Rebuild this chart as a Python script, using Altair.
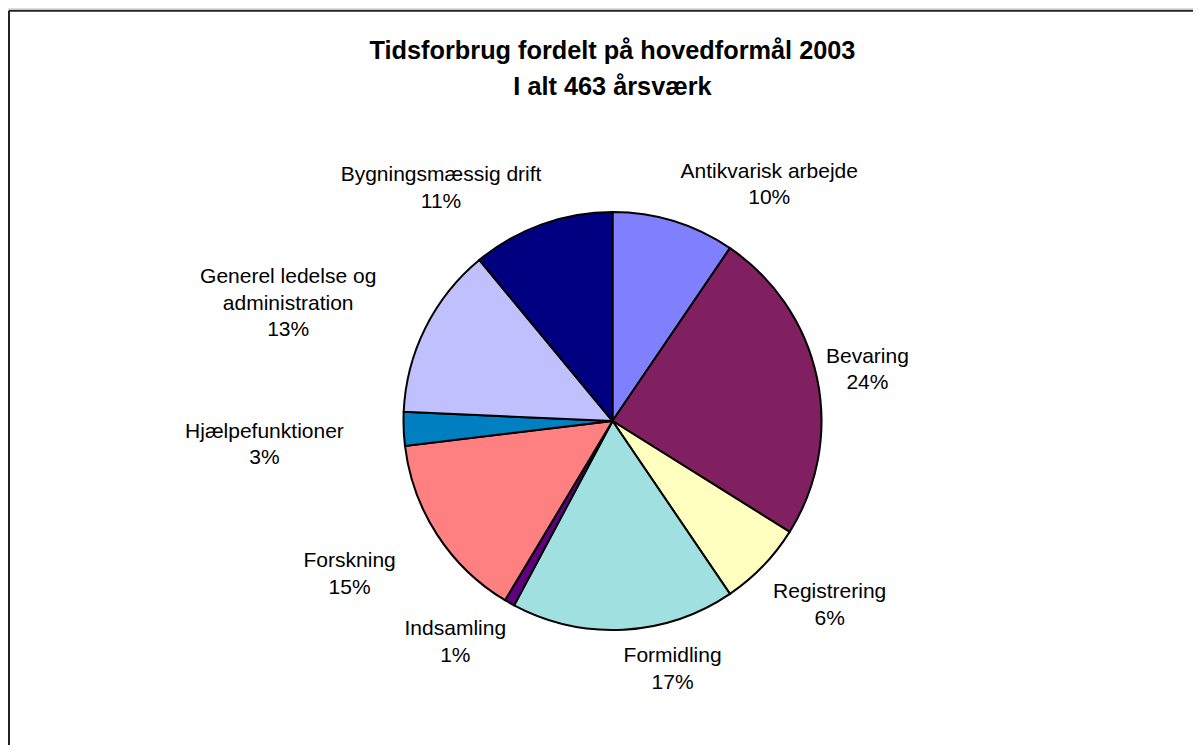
import textwrap
import altair as alt
import pandas as pd

# ---- data ----
names = [
    "Antikvarisk arbejde",
    "Bevaring",
    "Registrering",
    "Formidling",
    "Indsamling",
    "Forskning",
    "Hjælpefunktioner",
    "Generel ledelse og administration",
    "Bygningsmæssig drift",
]
shares = [9.5, 24.4, 6.6, 17.3, 0.8, 14.5, 2.6, 13.3, 11.0]
pct_labels = ["10%", "24%", "6%", "17%", "1%", "15%", "3%", "13%", "11%"]
title_lines = ["Tidsforbrug fordelt på hovedformål 2003", "I alt 463 årsværk"]

# ---- styling ----
colors = ["#8080FF", "#802060", "#FFFFC0", "#A0E0E0", "#600080",
          "#FF8080", "#0080C0", "#C0C0FF", "#000080"]
W, H = 1185, 737
CX, CY, R = 604.5, 413, 209
FONT = "Liberation Sans"
LABEL_SIZE = 21
LINE_H = 26.5

rows = []
for i, (n, v, p) in enumerate(zip(names, shares, pct_labels)):
    lines = textwrap.wrap(n, width=20) + [p]
    rows.append({
        "idx": i, "name": n, "value": v,
        "label": "\n".join(lines),
        "nchar": max(len(l) for l in lines),
        "nlines": len(lines),
    })
df = pd.DataFrame(rows)

base = alt.Chart(df)

pie = base.mark_arc(outerRadius=R, stroke="black", strokeWidth=2).encode(
    theta=alt.Theta("value:Q", stack=True),
    color=alt.Color("name:N", scale=alt.Scale(domain=names, range=colors), legend=None),
    order=alt.Order("idx:Q"),
    x=alt.value(CX),
    y=alt.value(CY),
)

labels = base.transform_joinaggregate(
    total="sum(value)"
).transform_window(
    cum="sum(value)", sort=[alt.SortField("idx")], frame=[None, 0]
).transform_calculate(
    t="2*PI*(datum.cum - datum.value/2)/datum.total",
    w=f"datum.nchar*{LABEL_SIZE*0.46}",
    h=f"datum.nlines*{LINE_H}",
).transform_calculate(
    lx=f"{CX} + {R+12}*sin(datum.t) + datum.w/2*(sin(datum.t)>0?1:-1)"
       f" + 50*min(0, (sin(datum.t)+0.5)/0.5)",
    ly=f"{CY} - {R+12}*cos(datum.t) - datum.h/2*clamp(3*cos(datum.t), -1, 1)"
       f" - 12*abs(cos(datum.t))",
).mark_text(
    align="center", baseline="middle", lineBreak="\n", lineHeight=LINE_H,
    fontSize=LABEL_SIZE, font=FONT, color="black",
).encode(
    x=alt.X("lx:Q", scale=None),
    y=alt.Y("ly:Q", scale=None),
    text="label:N",
)

tdf = pd.DataFrame({"line": title_lines, "k": list(range(len(title_lines)))})
title = alt.Chart(tdf).mark_text(
    align="center", baseline="alphabetic", fontSize=25.3, fontWeight="bold",
    font=FONT, color="black",
).transform_calculate(
    ty="50.5 + 36.5*datum.k"
).encode(
    x=alt.value(CX),
    y=alt.Y("ty:Q", scale=None),
    text="line:N",
)

one = alt.Data(values=[{"a": 1}])
top_rule = alt.Chart(one).mark_rule(color="#222222", strokeWidth=2).encode(
    x=alt.value(1), x2=alt.value(W + 20), y=alt.value(2.7)
)
left_rule = alt.Chart(one).mark_rule(color="#222222", strokeWidth=2).encode(
    x=alt.value(1), y=alt.value(2.7), y2=alt.value(H + 20)
)

chart = alt.layer(pie, labels, title, top_rule, left_rule).properties(
    width=W, height=H, padding=0,
    autosize=alt.AutoSizeParams(type="none"),
).configure_view(stroke=None).configure(background="white")

chart.save("out.html", embed_options={"renderer": "svg", "actions": False})
